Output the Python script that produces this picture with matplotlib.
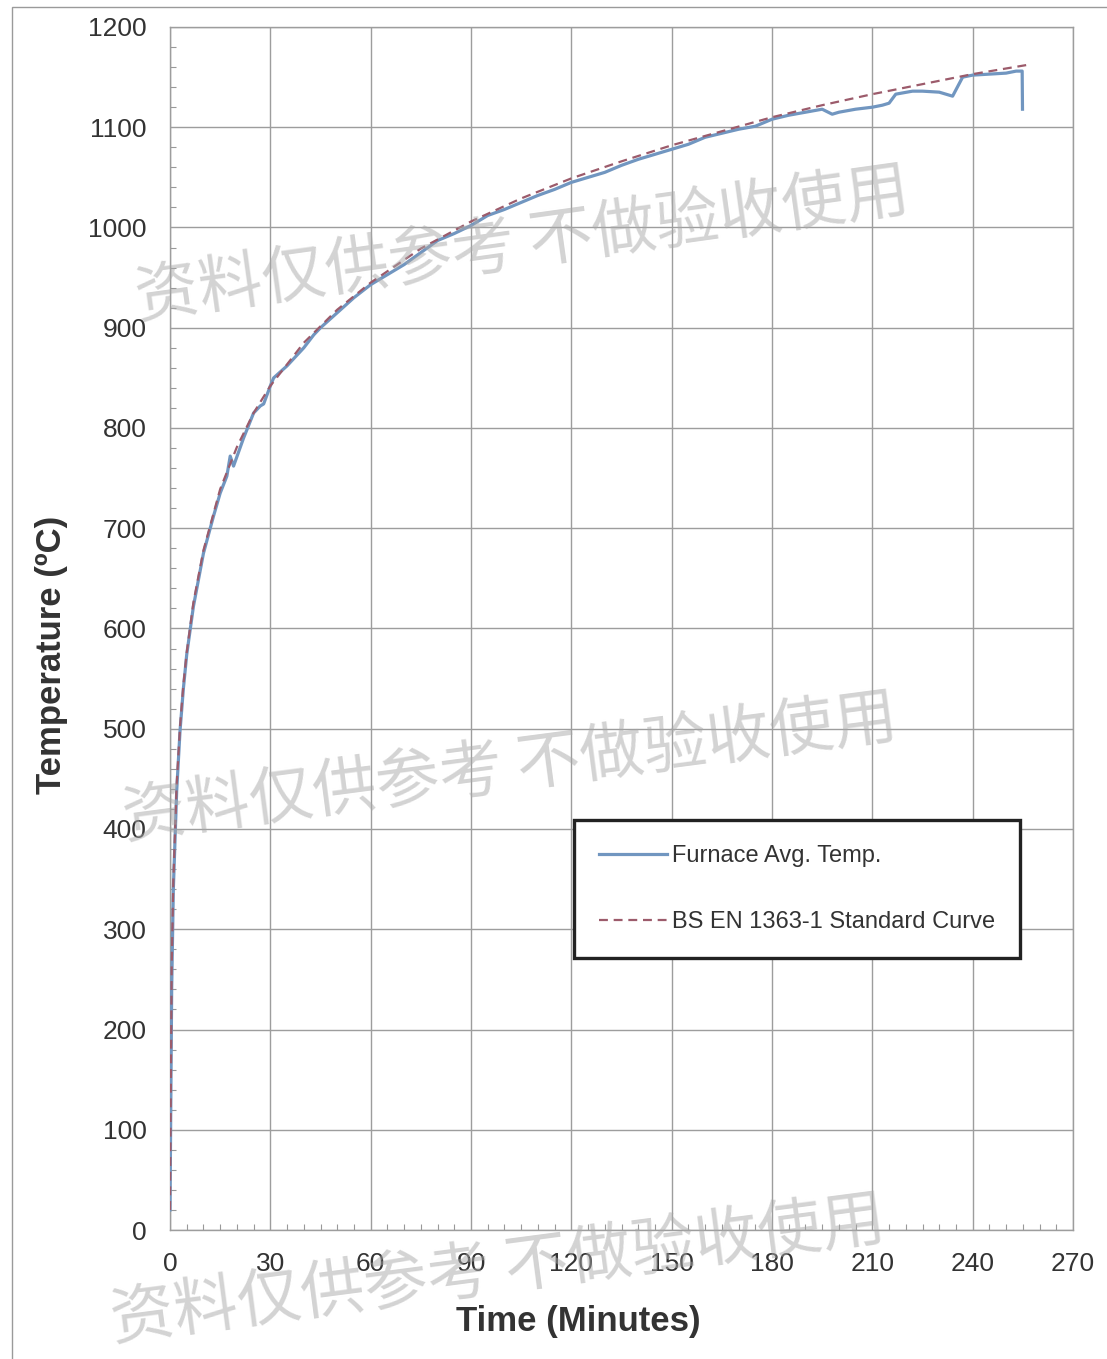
import matplotlib
matplotlib.use("Agg")
import matplotlib.pyplot as plt
from matplotlib.ticker import MultipleLocator
from matplotlib.patches import Rectangle

# ---- data ----
std_time = [0, 0.5, 1, 2, 3, 4, 5, 7, 10, 15, 20, 25, 30, 40, 50, 60, 75, 90,
            105, 120, 135, 150, 165, 180, 195, 210, 225, 240, 256]
std_temp = [20, 261, 349, 445, 502, 544, 576, 626, 678, 739, 781, 815, 842, 885,
            918, 945, 979, 1006, 1029, 1049, 1066, 1082, 1096, 1110, 1122, 1133,
            1143, 1153, 1162]

furnace_time = [0, 0.5, 1, 2, 3, 4, 5, 7, 10, 13, 15, 17, 18, 19, 22, 25, 27, 28,
                30, 31, 35, 40, 43, 45, 50, 55, 60, 65, 70, 75, 80, 85, 90, 95,
                100, 105, 110, 115, 120, 125, 130, 135, 140, 145, 150, 155, 160,
                165, 170, 175, 180, 185, 190, 195, 198, 200, 205, 210, 213, 215,
                217, 222, 225, 230, 234, 237, 240, 245, 250, 253, 254.8, 254.9]
furnace_temp = [20, 240, 340, 438, 498, 540, 574, 622, 675, 712, 735, 752, 772, 762,
                790, 815, 822, 824, 842, 850, 862, 880, 893, 900, 915, 930, 943,
                953, 963, 975, 987, 994, 1002, 1012, 1018, 1025, 1032, 1038, 1045,
                1050, 1055, 1062, 1068, 1073, 1078, 1083, 1090, 1094, 1098, 1101,
                1108, 1112, 1115, 1118, 1113, 1115, 1118, 1120, 1122, 1124, 1133,
                1136, 1136, 1135, 1131, 1150, 1152, 1153, 1154, 1156, 1156, 1118]

x_ticks = [0, 30, 60, 90, 120, 150, 180, 210, 240, 270]
y_ticks = [0, 100, 200, 300, 400, 500, 600, 700, 800, 900, 1000, 1100, 1200]
series_labels = ["Furnace Avg. Temp.", "BS EN 1363-1 Standard Curve"]
watermark = "资料仅供参考 不做验收使用"

NARROW = ["Liberation Sans Narrow", "Liberation Sans", "DejaVu Sans"]
plt.rcParams["font.family"] = NARROW

W, H = 1107, 1359
fig = plt.figure(figsize=(W / 100, H / 100), dpi=100)
fig.patch.set_facecolor("white")

# outer thin frame of the scanned page
fig.patches.append(Rectangle((12 / W, -0.02), 1.2, 1 - 7 / H + 0.02,
                             transform=fig.transFigure, fill=False,
                             edgecolor="#9a9a9a", linewidth=1.0))

ax = fig.add_axes([170 / W, 129 / H, 903 / W, 1203 / H])
ax.set_xlim(0, 270)
ax.set_ylim(0, 1200)

ax.plot(furnace_time, furnace_temp, color="#7196c0", lw=2.3,
        label=series_labels[0], zorder=3, solid_joinstyle="round")
ax.plot(std_time, std_temp, color="#9c5b6b", lw=1.6, ls=(0, (4, 2.6)),
        label=series_labels[1], zorder=4)

ax.set_xticks(x_ticks)
ax.set_yticks(y_ticks)
ax.xaxis.set_minor_locator(MultipleLocator(5))
ax.yaxis.set_minor_locator(MultipleLocator(20))
ax.grid(True, which="major", color="#9d9d9d", lw=1.0)
ax.tick_params(which="major", length=0, labelsize=19, colors="#333333")
ax.tick_params(axis="y", which="major", pad=17)
ax.tick_params(axis="x", which="major", pad=16)
ax.tick_params(which="minor", direction="in", length=4, width=0.8, color="#999999")
for s in ax.spines.values():
    s.set_color("#9d9d9d")
    s.set_linewidth(1.0)

ax.set_xlabel("Time (Minutes)", fontsize=25, fontweight="bold", color="#333333")
ax.xaxis.set_label_coords((578 - 170) / 903, -(1322 - 1230) / 1203)
ax.xaxis.label.set_va("center")
ax.set_ylabel("Temperature (ºC)", fontsize=25, fontweight="bold", color="#333333")
ax.yaxis.set_label_coords((52 - 170) / 903, (1230 - 655) / 1203)
ax.yaxis.label.set_va("center")

leg = ax.legend(loc="center",
                bbox_to_anchor=((797 - 170) / 903, (1230 - 889) / 1203),
                fontsize=17, frameon=True, fancybox=False, framealpha=1,
                edgecolor="#222222", handlelength=2.9, handletextpad=0.2,
                labelspacing=1.85, borderpad=1.05, borderaxespad=0)
leg.get_frame().set_linewidth(2.4)
for t in leg.get_texts():
    t.set_color("#333333")
leg.set_zorder(6)

# watermark text
wm_kw = dict(fontsize=46, color="#a8a8a8", alpha=0.5, ha="center", va="center",
             family=["Noto Sans CJK SC", "DejaVu Sans"], zorder=10,
             rotation_mode="anchor")
fig.text(522 / W, 1 - 245 / H, watermark, rotation=8, **wm_kw)
fig.text(510 / W, 1 - 768 / H, watermark, rotation=7.5, **wm_kw)
fig.text(498 / W, 1 - 1270 / H, watermark, rotation=7.5, **wm_kw)

fig.savefig("out.png", dpi=100)
